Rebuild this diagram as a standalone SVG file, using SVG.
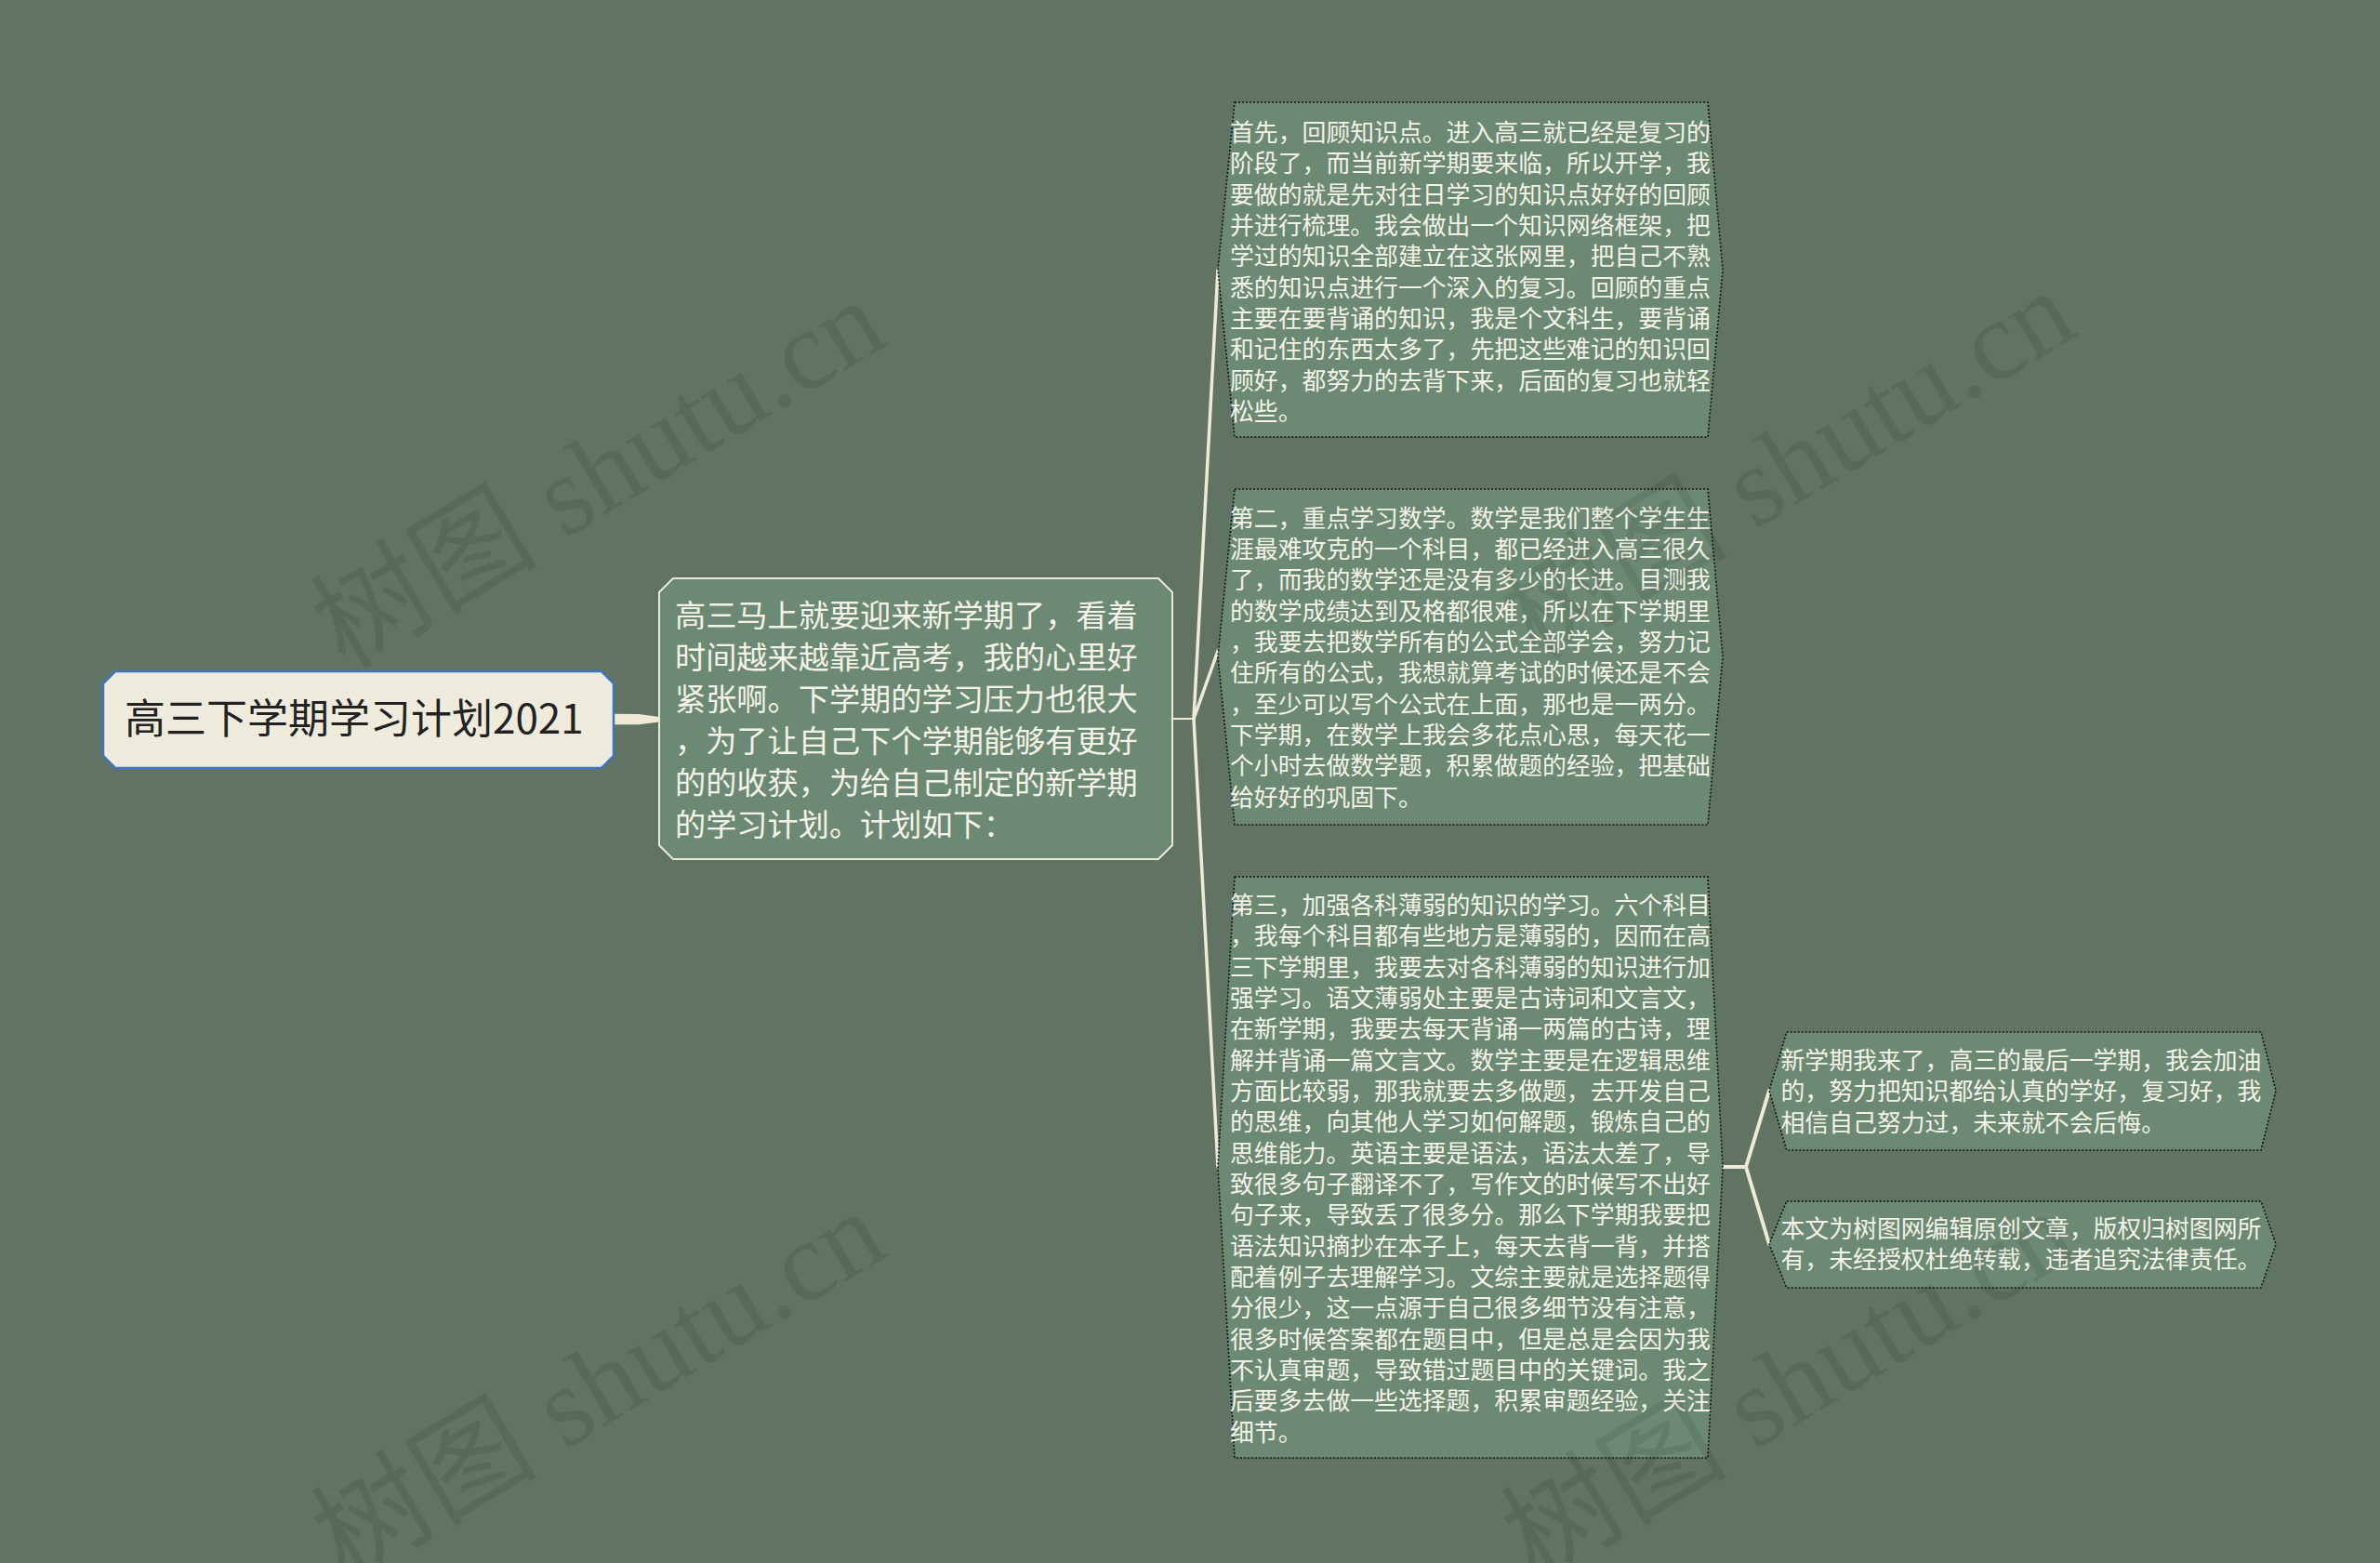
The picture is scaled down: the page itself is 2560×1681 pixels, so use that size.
<svg xmlns="http://www.w3.org/2000/svg" width="2560" height="1681" viewBox="0 0 2560 1681">
<style>
.bg{fill:#617463}
.t{font-family:"Noto Sans CJK SC","Noto Sans",sans-serif;fill:#f4f2e8}
.box{fill:#6c8a73;stroke:#111;stroke-width:1.6;stroke-dasharray:2 2}
.line{fill:none;stroke:#efe9d6;stroke-linecap:round}
.wm{font-family:"Liberation Serif","Noto Sans CJK SC",serif;font-size:122px;fill:#000;fill-opacity:0.09}
</style>
<rect class="bg" x="0" y="0" width="2560" height="1681"/>
<g id="connectors">
<polygon points="660,767.7 687,768 709,771 709,776.5 687,779.3 660,779.3" fill="#efe9d6"/>
<line class="line" x1="1261" y1="773" x2="1284" y2="773" stroke-width="2"/>
<line class="line" x1="1284" y1="773" x2="1310" y2="290" stroke-width="3.5"/>
<line class="line" x1="1284" y1="773" x2="1310" y2="700" stroke-width="3.5"/>
<line class="line" x1="1284" y1="773" x2="1310" y2="1255" stroke-width="3.5"/>
<line class="line" x1="1853" y1="1255" x2="1878" y2="1255" stroke-width="4"/>
<line class="line" x1="1878" y1="1255" x2="1903" y2="1173" stroke-width="4"/>
<line class="line" x1="1878" y1="1255" x2="1903" y2="1338" stroke-width="4"/>
</g>
<g id="root">
<polygon points="124,722 647,722 660,735 660,813 647,826 124,826 111,813 111,735" fill="#efebdc" stroke="#3d75c0" stroke-width="2.5"/>
<text class="t" x="134" y="788.5" font-size="44" style="fill:#222">高三下学期学习计划2021</text>
</g>
<g id="main">
<polygon points="724,622 1246,622 1261,637 1261,909 1246,924 724,924 709,909 709,637" fill="#6c8a73" stroke="#ece8d8" stroke-width="2"/>
<text class="t" font-size="33.2">
<tspan x="726" y="673.6">高三马上就要迎来新学期了，看着</tspan>
<tspan x="726" y="718.6">时间越来越靠近高考，我的心里好</tspan>
<tspan x="726" y="763.6">紧张啊。下学期的学习压力也很大</tspan>
<tspan x="726" y="808.6">，为了让自己下个学期能够有更好</tspan>
<tspan x="726" y="853.6">的的收获，为给自己制定的新学期</tspan>
<tspan x="726" y="898.6">的学习计划。计划如下：</tspan>
</text>
</g>
<g id="child1">
<polygon class="box" points="1328,110 1837,110 1853,290 1837,470 1328,470 1310,290"/>
<text class="t" font-size="25.85">
<tspan x="1323" y="152">首先，回顾知识点。进入高三就已经是复习的</tspan>
<tspan x="1323" dy="33.33">阶段了，而当前新学期要来临，所以开学，我</tspan>
<tspan x="1323" dy="33.33">要做的就是先对往日学习的知识点好好的回顾</tspan>
<tspan x="1323" dy="33.33">并进行梳理。我会做出一个知识网络框架，把</tspan>
<tspan x="1323" dy="33.33">学过的知识全部建立在这张网里，把自己不熟</tspan>
<tspan x="1323" dy="33.33">悉的知识点进行一个深入的复习。回顾的重点</tspan>
<tspan x="1323" dy="33.33">主要在要背诵的知识，我是个文科生，要背诵</tspan>
<tspan x="1323" dy="33.33">和记住的东西太多了，先把这些难记的知识回</tspan>
<tspan x="1323" dy="33.33">顾好，都努力的去背下来，后面的复习也就轻</tspan>
<tspan x="1323" dy="33.33">松些。</tspan>
</text>
</g>
<g id="child2">
<polygon class="box" points="1328,526 1837,526 1853,706 1837,887 1328,887 1310,706"/>
<text class="t" font-size="25.85">
<tspan x="1323" y="566.6">第二，重点学习数学。数学是我们整个学生生</tspan>
<tspan x="1323" dy="33.33">涯最难攻克的一个科目，都已经进入高三很久</tspan>
<tspan x="1323" dy="33.33">了，而我的数学还是没有多少的长进。目测我</tspan>
<tspan x="1323" dy="33.33">的数学成绩达到及格都很难，所以在下学期里</tspan>
<tspan x="1323" dy="33.33">，我要去把数学所有的公式全部学会，努力记</tspan>
<tspan x="1323" dy="33.33">住所有的公式，我想就算考试的时候还是不会</tspan>
<tspan x="1323" dy="33.33">，至少可以写个公式在上面，那也是一两分。</tspan>
<tspan x="1323" dy="33.33">下学期，在数学上我会多花点心思，每天花一</tspan>
<tspan x="1323" dy="33.33">个小时去做数学题，积累做题的经验，把基础</tspan>
<tspan x="1323" dy="33.33">给好好的巩固下。</tspan>
</text>
</g>
<g id="child3">
<polygon class="box" points="1328,943 1837,943 1853,1255 1837,1568 1328,1568 1310,1255"/>
<text class="t" font-size="25.85">
<tspan x="1323" y="983">第三，加强各科薄弱的知识的学习。六个科目</tspan>
<tspan x="1323" dy="33.33">，我每个科目都有些地方是薄弱的，因而在高</tspan>
<tspan x="1323" dy="33.33">三下学期里，我要去对各科薄弱的知识进行加</tspan>
<tspan x="1323" dy="33.33">强学习。语文薄弱处主要是古诗词和文言文，</tspan>
<tspan x="1323" dy="33.33">在新学期，我要去每天背诵一两篇的古诗，理</tspan>
<tspan x="1323" dy="33.33">解并背诵一篇文言文。数学主要是在逻辑思维</tspan>
<tspan x="1323" dy="33.33">方面比较弱，那我就要去多做题，去开发自己</tspan>
<tspan x="1323" dy="33.33">的思维，向其他人学习如何解题，锻炼自己的</tspan>
<tspan x="1323" dy="33.33">思维能力。英语主要是语法，语法太差了，导</tspan>
<tspan x="1323" dy="33.33">致很多句子翻译不了，写作文的时候写不出好</tspan>
<tspan x="1323" dy="33.33">句子来，导致丢了很多分。那么下学期我要把</tspan>
<tspan x="1323" dy="33.33">语法知识摘抄在本子上，每天去背一背，并搭</tspan>
<tspan x="1323" dy="33.33">配着例子去理解学习。文综主要就是选择题得</tspan>
<tspan x="1323" dy="33.33">分很少，这一点源于自己很多细节没有注意，</tspan>
<tspan x="1323" dy="33.33">很多时候答案都在题目中，但是总是会因为我</tspan>
<tspan x="1323" dy="33.33">不认真审题，导致错过题目中的关键词。我之</tspan>
<tspan x="1323" dy="33.33">后要多去做一些选择题，积累审题经验，关注</tspan>
<tspan x="1323" dy="33.33">细节。</tspan>
</text>
</g>
<g id="grandchild1">
<polygon class="box" points="1921.7,1110 2432,1110 2448,1173 2432,1237 1921.7,1237 1903,1173"/>
<text class="t" font-size="25.85">
<tspan x="1915.5" y="1150">新学期我来了，高三的最后一学期，我会加油</tspan>
<tspan x="1915.5" dy="33.33">的，努力把知识都给认真的学好，复习好，我</tspan>
<tspan x="1915.5" dy="33.33">相信自己努力过，未来就不会后悔。</tspan>
</text>
</g>
<g id="grandchild2">
<polygon class="box" points="1921.7,1292 2432,1292 2448,1338 2432,1385 1921.7,1385 1903,1338"/>
<text class="t" font-size="25.85">
<tspan x="1915.5" y="1331">本文为树图网编辑原创文章，版权归树图网所</tspan>
<tspan x="1915.5" dy="33.33">有，未经授权杜绝转载，违者追究法律责任。</tspan>
</text>
</g>
<g id="watermarks">
<text class="wm" text-anchor="middle" transform="translate(665,545) rotate(-31)">树图 shutu.cn</text>
<text class="wm" text-anchor="middle" transform="translate(1945,535) rotate(-31)">树图 shutu.cn</text>
<text class="wm" text-anchor="middle" transform="translate(665,1525) rotate(-31)">树图 shutu.cn</text>
<text class="wm" text-anchor="middle" transform="translate(1945,1525) rotate(-31)">树图 shutu.cn</text>
</g>
</svg>
